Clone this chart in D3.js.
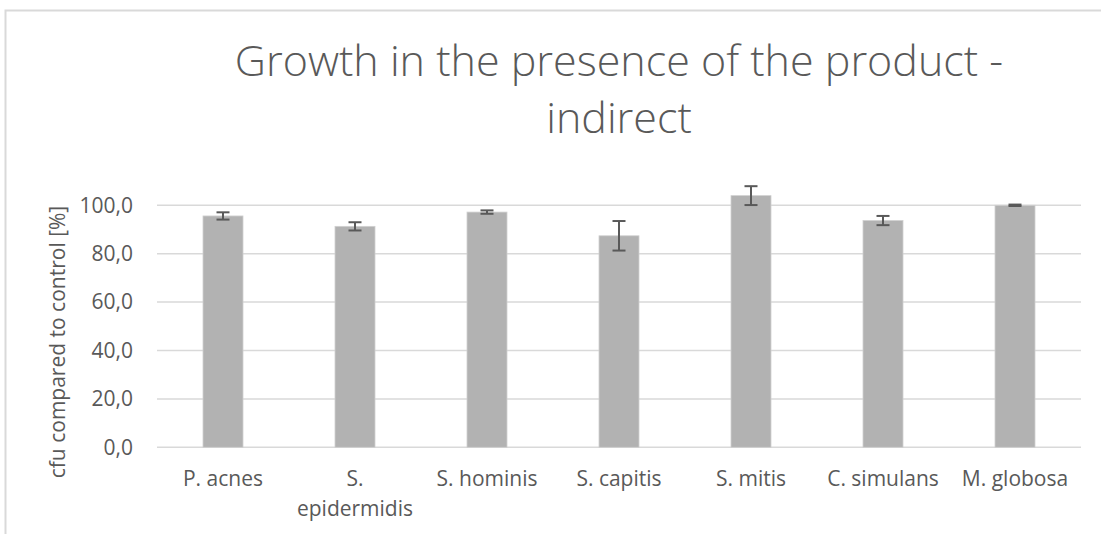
<!DOCTYPE html>
<html>
<head>
<meta charset="utf-8">
<script src="https://cdn.jsdelivr.net/npm/d3@7"></script>
<style>
  html, body { margin: 0; padding: 0; background: #fff; }
  svg { display: block; }
  text { font-family: "Open Sans", "DejaVu Sans", sans-serif; fill: #595959; }
</style>
</head>
<body>
<svg width="1101" height="534"></svg>
<script>
// data
const categories = ['P. acnes', 'S. epidermidis', 'S. hominis', 'S. capitis', 'S. mitis', 'C. simulans', 'M. globosa'];
const values = [95.6, 91.3, 97.2, 87.4, 104.0, 93.7, 100.0];
const errors = [1.5, 1.7, 0.7, 6.1, 3.9, 1.9, 0.3];
const yTicks = [0, 20, 40, 60, 80, 100];
const titleLines = ['Growth in the presence of the product -', 'indirect'];
const yTitle = 'cfu compared to control [%]';

const W = 1101, H = 534;
const LEFT = 157, RIGHT = 1081, TOP = 205.3, BOTTOM = 447.3;
const BAR = '#b2b2b2', GRID = '#d9d9d9', ERR = '#595959';
const FONT = '21px';

const svg = d3.select('svg');

// outer chart frame (only top and left edges are visible)
svg.append('rect')
    .attr('x', 5.5)
    .attr('y', 10.5)
    .attr('width', W + 20)
    .attr('height', H + 20)
    .attr('fill', 'none')
    .attr('stroke', GRID)
    .attr('stroke-width', 2);

const x = d3.scaleBand()
    .domain(categories)
    .range([LEFT, RIGHT])
    .paddingInner(0.697)
    .paddingOuter(0.3485);

const y = d3.scaleLinear()
    .domain([0, 100])
    .range([BOTTOM, TOP]);

const step = x.step();

// gridlines
svg.append('g')
    .selectAll('line')
    .data(yTicks)
    .join('line')
    .attr('x1', LEFT)
    .attr('x2', RIGHT)
    .attr('y1', d => y(d))
    .attr('y2', d => y(d))
    .attr('stroke', GRID)
    .attr('stroke-width', 1.5);

// y tick labels
const fmt = d => d3.format('.1f')(d).replace('.', ',');
svg.append('g')
    .selectAll('text')
    .data(yTicks)
    .join('text')
    .attr('x', 133)
    .attr('y', d => y(d))
    .attr('dy', '0.35em')
    .attr('text-anchor', 'end')
    .style('font-size', FONT)
    .text(fmt);

// bars
svg.append('g')
    .selectAll('rect')
    .data(values)
    .join('rect')
    .attr('x', (d, i) => x(categories[i]))
    .attr('y', d => y(d))
    .attr('width', x.bandwidth())
    .attr('height', d => y(0) - y(d))
    .attr('fill', BAR)
    .attr('stroke', '#d0d0d0')
    .attr('stroke-width', 0.8);

// error bars
const CAP = 6.5;
const eb = svg.append('g')
    .attr('stroke', ERR)
    .attr('stroke-width', 2);
values.forEach(function (v, i) {
    const cx = x(categories[i]) + x.bandwidth() / 2;
    const lo = y(v - errors[i]), hi = y(v + errors[i]);
    eb.append('line').attr('x1', cx).attr('x2', cx).attr('y1', lo).attr('y2', hi);
    eb.append('line').attr('x1', cx - CAP).attr('x2', cx + CAP).attr('y1', lo).attr('y2', lo);
    eb.append('line').attr('x1', cx - CAP).attr('x2', cx + CAP).attr('y1', hi).attr('y2', hi);
});

// category labels, wrapped when wider than the band
const xl = svg.append('g');
categories.forEach(function (c) {
    const cx = x(c) + x.bandwidth() / 2;
    const t = xl.append('text')
        .attr('x', cx)
        .attr('y', 486)
        .attr('text-anchor', 'middle')
        .style('font-size', FONT)
        .text(c);
    if (t.node().getComputedTextLength() > step - 4) {
        const words = c.split(' ');
        t.text(words[0]);
        xl.append('text')
            .attr('x', cx)
            .attr('y', 516)
            .attr('text-anchor', 'middle')
            .style('font-size', FONT)
            .text(words.slice(1).join(' '));
    }
});

// y axis title
svg.append('text')
    .attr('transform', `translate(65,342) rotate(-90)`)
    .attr('text-anchor', 'middle')
    .style('font-size', FONT)
    .text(yTitle);

// chart title
titleLines.forEach(function (line, i) {
    svg.append('text')
        .attr('x', 619)
        .attr('y', 76 + i * 57)
        .attr('text-anchor', 'middle')
        .style('font-size', '43px')
        .style('font-weight', 300)
        .text(line);
});
</script>
</body>
</html>
